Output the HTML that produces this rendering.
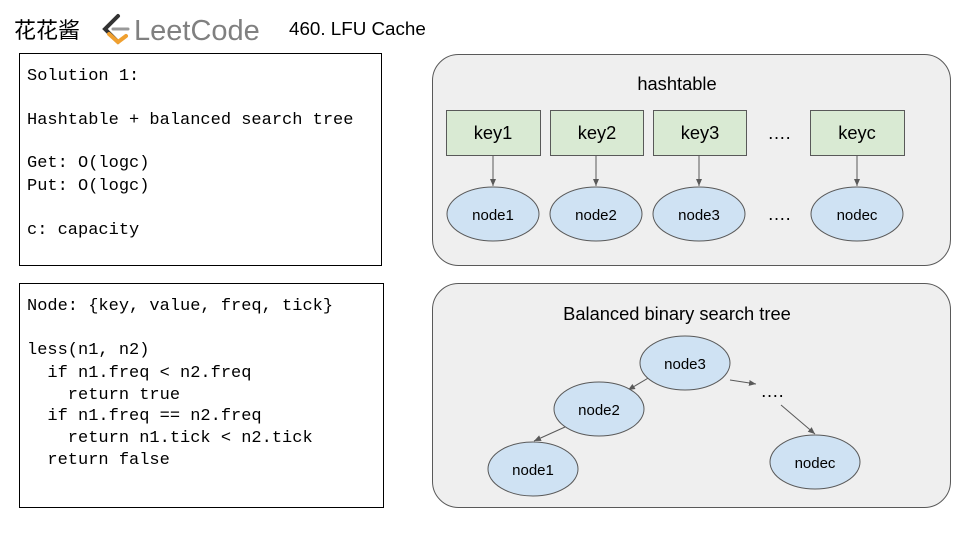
<!DOCTYPE html>
<html><head><meta charset="utf-8"><style>
html,body{margin:0;padding:0;background:#fff;width:960px;height:540px;overflow:hidden}
</style></head><body>
<svg width="960" height="540" viewBox="0 0 960 540" xmlns="http://www.w3.org/2000/svg">
<defs><marker id="a" markerWidth="8" markerHeight="8" refX="7" refY="4" orient="auto" markerUnits="userSpaceOnUse"><path d="M0,1 L7,4 L0,7 z" fill="#595959"/></marker></defs>
<text x="14" y="38" font-family="'Noto Sans CJK SC',sans-serif" font-size="22" fill="#000">花花酱</text>
<g stroke-linecap="round" fill="none" stroke-width="4">
<path d="M118,16 L105,29 L118,42" stroke="#333"/>
<path d="M109,34 L118,42 L126,36" stroke="#f0a030"/>
<path d="M113,29 L128,29" stroke="#999" stroke-width="3"/>
</g>
<text x="134" y="40" font-family="'Liberation Sans',sans-serif" font-size="29" fill="#808080">LeetCode</text>
<text x="289" y="35" font-family="'Liberation Sans',sans-serif" font-size="18.8" fill="#000">460. LFU Cache</text>
<rect x="19.5" y="53.5" width="362" height="212" fill="#fff" stroke="#000"/>
<rect x="19.5" y="283.5" width="364" height="224" fill="#fff" stroke="#000"/>
<g font-family="'Liberation Mono',monospace" font-size="17" fill="#000">
<text x="27" y="80">Solution 1:</text>
<text x="27" y="124">Hashtable + balanced search tree</text>
<text x="27" y="167">Get: O(logc)</text>
<text x="27" y="190">Put: O(logc)</text>
<text x="27" y="234">c: capacity</text>
<text x="27" y="310">Node: {key, value, freq, tick}</text>
<text x="27" y="354">less(n1, n2)</text>
<text x="27" y="377" xml:space="preserve">  if n1.freq &lt; n2.freq</text>
<text x="27" y="399" xml:space="preserve">    return true</text>
<text x="27" y="420" xml:space="preserve">  if n1.freq == n2.freq</text>
<text x="27" y="442" xml:space="preserve">    return n1.tick &lt; n2.tick</text>
<text x="27" y="464" xml:space="preserve">  return false</text>
</g>
<rect x="432.5" y="54.5" width="518" height="211" rx="26" fill="#efefef" stroke="#595959"/>
<rect x="432.5" y="283.5" width="518" height="224" rx="26" fill="#efefef" stroke="#595959"/>
<g font-family="'Liberation Sans',sans-serif" font-size="18.3" fill="#000" text-anchor="middle">
<text x="677" y="90">hashtable</text>
<text x="677" y="320">Balanced binary search tree</text>
<g fill="#d9ead3" stroke="#595959">
<rect x="446.5" y="110.5" width="94" height="45"/>
<rect x="550.5" y="110.5" width="93" height="45"/>
<rect x="653.5" y="110.5" width="93" height="45"/>
<rect x="810.5" y="110.5" width="94" height="45"/>
</g>
<text x="493" y="139">key1</text><text x="597" y="139">key2</text><text x="700" y="139">key3</text><text x="857" y="139">keyc</text>
<text x="779" y="139">….</text>
<g stroke="#595959" marker-end="url(#a)">
<line x1="493" y1="156" x2="493" y2="186"/>
<line x1="596" y1="156" x2="596" y2="186"/>
<line x1="699" y1="156" x2="699" y2="186"/>
<line x1="857" y1="156" x2="857" y2="186"/>
<line x1="650" y1="377" x2="628" y2="390"/>
<line x1="730" y1="380" x2="756" y2="384"/>
<line x1="781" y1="405" x2="815" y2="434"/>
<line x1="565" y1="427" x2="534" y2="441"/>
</g>
<g fill="#cfe2f3" stroke="#595959">
<ellipse cx="493" cy="214" rx="46" ry="27"/>
<ellipse cx="596" cy="214" rx="46" ry="27"/>
<ellipse cx="699" cy="214" rx="46" ry="27"/>
<ellipse cx="857" cy="214" rx="46" ry="27"/>
<ellipse cx="685" cy="363" rx="45" ry="27"/>
<ellipse cx="599" cy="409" rx="45" ry="27"/>
<ellipse cx="533" cy="469" rx="45" ry="27"/>
<ellipse cx="815" cy="462" rx="45" ry="27"/>
</g>
<g font-size="15">
<text x="493" y="220">node1</text><text x="596" y="220">node2</text><text x="699" y="220">node3</text><text x="857" y="220">nodec</text>
<text x="685" y="369">node3</text><text x="599" y="415">node2</text><text x="533" y="475">node1</text><text x="815" y="468">nodec</text>
</g>
<text x="779" y="220">….</text>
<text x="772" y="397">….</text>
</g>
</svg>
</body></html>
